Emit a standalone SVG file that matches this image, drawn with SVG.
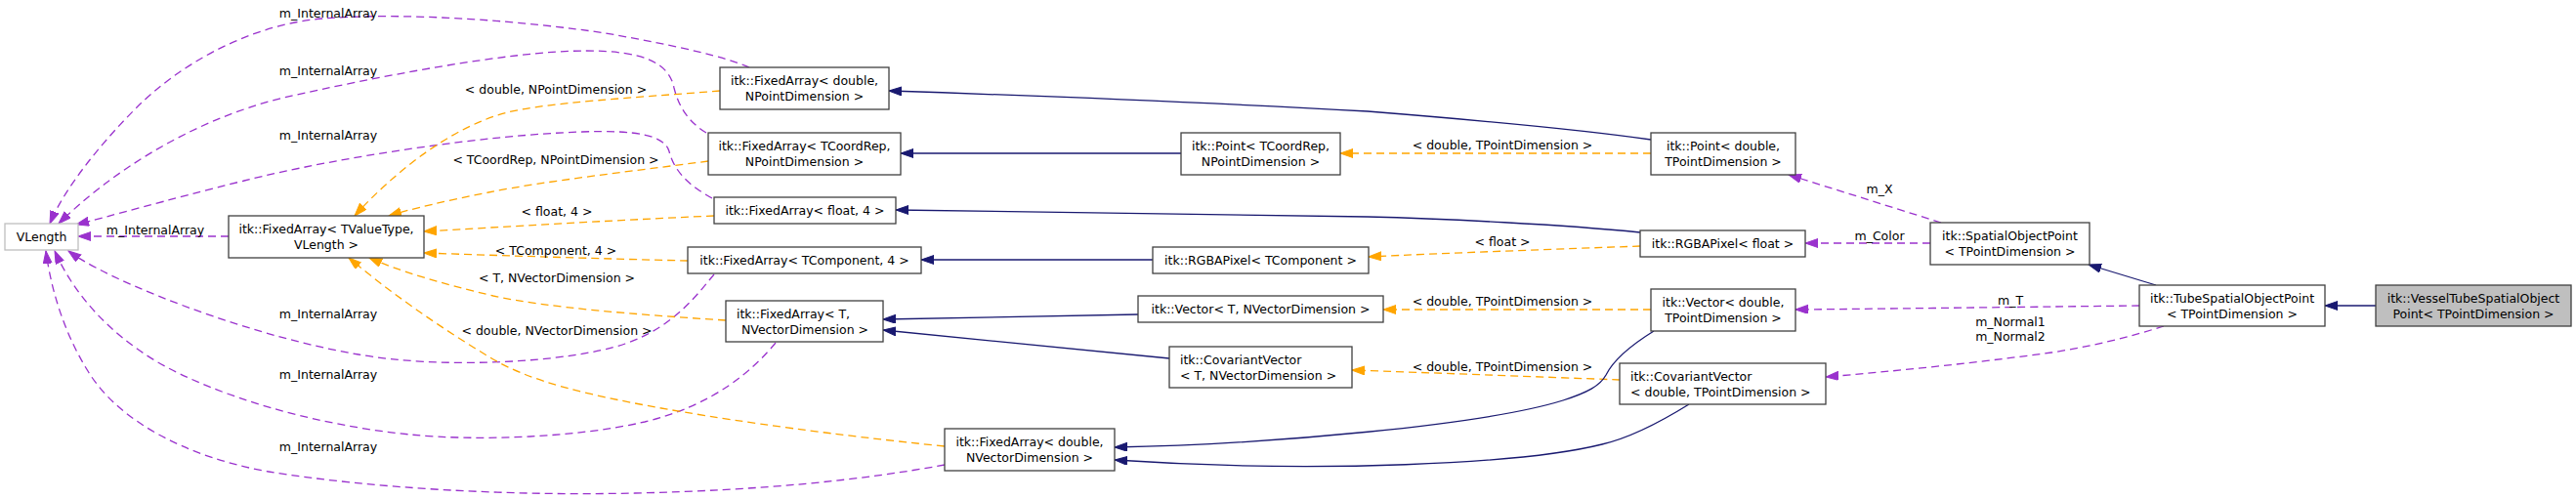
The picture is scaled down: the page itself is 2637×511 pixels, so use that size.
<svg xmlns="http://www.w3.org/2000/svg" width="2637" height="511" viewBox="0 0 2637 511">
<style>
  .bg{fill:#ffffff}
  .node rect{fill:#ffffff;stroke:#404040;stroke-width:1.3}
  .node.ext rect{stroke:#bfbfbf}
  .node.cur rect{fill:#bfbfbf}
  text{font-family:"DejaVu Sans","Liberation Sans",sans-serif;font-size:12.5px;fill:#000000}
  .c{text-anchor:middle}
  .l{text-anchor:start}
  .inh{fill:none;stroke:#191970;stroke-width:1.3;marker-end:url(#aNavy)}
  .use{fill:none;stroke:#9a32cd;stroke-width:1.3;stroke-dasharray:8,5;marker-end:url(#aPurple)}
  .tpl{fill:none;stroke:#ffa500;stroke-width:1.3;stroke-dasharray:8,5;marker-end:url(#aOrange)}
</style>
<defs>
  <marker id="aNavy" markerUnits="userSpaceOnUse" markerWidth="14" markerHeight="10" refX="13" refY="4.5" orient="auto">
    <path d="M0,0 L13,4.5 L0,9 z" fill="#191970" stroke="#191970" stroke-width="1"/>
  </marker>
  <marker id="aPurple" markerUnits="userSpaceOnUse" markerWidth="14" markerHeight="10" refX="13" refY="4.5" orient="auto">
    <path d="M0,0 L13,4.5 L0,9 z" fill="#9a32cd" stroke="#9a32cd" stroke-width="1"/>
  </marker>
  <marker id="aOrange" markerUnits="userSpaceOnUse" markerWidth="14" markerHeight="10" refX="13" refY="4.5" orient="auto">
    <path d="M0,0 L13,4.5 L0,9 z" fill="#ffa500" stroke="#ffa500" stroke-width="1"/>
  </marker>
</defs>
<rect class="bg" x="0" y="0" width="2637" height="511"/>

<g id="edges">
  <!-- usage edges to VLength -->
  <path class="use" d="M767,69 C740,58 700,48 620,34 C540,22 420,12 330,19 C250,26 180,70 140,110 C100,150 65,195 51,229"/>
  <path class="use" d="M723,136 C705,125 695,110 690,90 C685,65 660,52 600,52 C520,52 380,80 290,100 C190,125 110,180 60,229"/>
  <path class="use" d="M729,203 C705,190 690,175 685,155 C680,138 650,133 596,135 C500,138 350,160 250,185 C170,205 110,222 78,230"/>
  <path class="use" d="M234,242 L80,242"/>
  <path class="use" d="M731,281 C715,300 690,335 640,352 C580,372 450,378 367,363 C290,350 200,320 138,293 C110,281 85,268 70,257"/>
  <path class="use" d="M794,351 C770,380 730,415 660,432 C590,448 490,452 420,445 C320,435 220,405 160,370 C110,340 75,300 56,257"/>
  <path class="use" d="M967,476 C880,492 780,502 650,505 C520,508 380,500 275,483 C190,468 120,430 90,380 C65,340 52,295 47,257"/>
  <!-- template edges to FixedArray<TValueType,VLength> -->
  <path class="tpl" d="M737,93 C650,100 560,105 520,115 C460,130 400,180 363,221"/>
  <path class="tpl" d="M725,165 C650,175 560,185 500,197 C460,205 420,214 398,221"/>
  <path class="tpl" d="M731,221 C620,226 520,232 434,237"/>
  <path class="tpl" d="M704,267 C620,265 520,262 434,259"/>
  <path class="tpl" d="M743,328 C650,322 560,315 505,303 C450,290 410,278 378,264"/>
  <path class="tpl" d="M967,457 C850,445 760,432 700,422 C600,405 540,390 500,365 C450,335 400,300 357,264"/>
  <!-- right template edges -->
  <path class="tpl" d="M1690,157 L1372,157"/>
  <path class="tpl" d="M1679,252 C1600,255 1480,259 1401,263"/>
  <path class="tpl" d="M1690,317 L1416,317"/>
  <path class="tpl" d="M1658,389 C1580,386 1470,382 1384,379"/>
  <!-- inheritance -->
  <path class="inh" d="M1690,143 C1600,130 1450,118 1400,114 C1200,103 1000,96 910,93"/>
  <path class="inh" d="M1209,157 L922,157"/>
  <path class="inh" d="M1679,238 C1600,230 1480,224 1400,222 C1200,218 1000,215 917,215"/>
  <path class="inh" d="M1180,266 L943,266"/>
  <path class="inh" d="M1165,322 L904,327"/>
  <path class="inh" d="M1197,367 L904,338"/>
  <path class="inh" d="M1693,339 C1672,352 1652,368 1644,384 C1638,395 1625,402 1600,410 C1520,435 1300,455 1141,458"/>
  <path class="inh" d="M1729,414 C1700,432 1670,448 1640,455 C1560,475 1350,485 1141,471"/>
  <path class="inh" d="M2207,292 L2138,271"/>
  <path class="inh" d="M2432,313 L2380,313"/>
  <!-- right usage edges -->
  <path class="use" d="M1987,228 L1831,179"/>
  <path class="use" d="M1976,249 L1848,249"/>
  <path class="use" d="M2190,313 C2100,314 1950,316 1838,317"/>
  <path class="use" d="M2215,334 C2180,345 2140,355 2100,361 C2020,372 1940,380 1869,386"/>
  <!-- labels -->
  <text class="c" x="336" y="17.5">m_InternalArray</text>
  <text class="c" x="336" y="76.5">m_InternalArray</text>
  <text class="c" x="336" y="142.5">m_InternalArray</text>
  <text class="c" x="159" y="239.5">m_InternalArray</text>
  <text class="c" x="336" y="325.5">m_InternalArray</text>
  <text class="c" x="336" y="387.5">m_InternalArray</text>
  <text class="c" x="336" y="461.5">m_InternalArray</text>
  <text class="c" x="569" y="95.5">&lt; double, NPointDimension &gt;</text>
  <text class="c" x="569" y="167.5">&lt; TCoordRep, NPointDimension &gt;</text>
  <text class="c" x="570" y="220.5">&lt; float, 4 &gt;</text>
  <text class="c" x="569" y="260.5">&lt; TComponent, 4 &gt;</text>
  <text class="c" x="570" y="288.5">&lt; T, NVectorDimension &gt;</text>
  <text class="c" x="570" y="342.5">&lt; double, NVectorDimension &gt;</text>
  <text class="c" x="1538" y="152.5">&lt; double, TPointDimension &gt;</text>
  <text class="c" x="1538" y="251.5">&lt; float &gt;</text>
  <text class="c" x="1538" y="312.5">&lt; double, TPointDimension &gt;</text>
  <text class="c" x="1538" y="379.5">&lt; double, TPointDimension &gt;</text>
  <text class="c" x="1924" y="197.5">m_X</text>
  <text class="c" x="1924" y="245.5">m_Color</text>
  <text class="c" x="2058" y="311.5">m_T</text>
  <text class="c" x="2058" y="333.5">m_Normal1</text>
  <text class="c" x="2058" y="348.5">m_Normal2</text>
</g>

<g id="VLength" class="node ext"><rect x="5" y="229" width="75" height="27"/><text class="c" x="42.5" y="246.5">VLength</text></g>
<g id="FixedArray_TValueType_VLength" class="node"><rect x="234" y="221" width="200" height="43"/><text class="c" x="334" y="238.5">itk::FixedArray&lt; TValueType,</text><text class="c" x="334" y="254.5">VLength &gt;</text></g>
<g id="FixedArray_double_NPointDimension" class="node"><rect x="737" y="69" width="173" height="43"/><text class="c" x="823.5" y="86.5">itk::FixedArray&lt; double,</text><text class="c" x="823.5" y="102.5">NPointDimension &gt;</text></g>
<g id="FixedArray_TCoordRep_NPointDimension" class="node"><rect x="725" y="136" width="197" height="43"/><text class="c" x="823.5" y="153.5">itk::FixedArray&lt; TCoordRep,</text><text class="c" x="823.5" y="169.5">NPointDimension &gt;</text></g>
<g id="FixedArray_float_4" class="node"><rect x="731" y="202" width="186" height="27"/><text class="c" x="824" y="219.5">itk::FixedArray&lt; float, 4 &gt;</text></g>
<g id="FixedArray_TComponent_4" class="node"><rect x="704" y="253" width="239" height="27"/><text class="c" x="823.5" y="270.5">itk::FixedArray&lt; TComponent, 4 &gt;</text></g>
<g id="FixedArray_T_NVectorDimension" class="node"><rect x="743" y="308" width="161" height="42"/><text class="c" x="812" y="325.5">itk::FixedArray&lt; T,</text><text class="c" x="824" y="341.5">NVectorDimension &gt;</text></g>
<g id="FixedArray_double_NVectorDimension" class="node"><rect x="967" y="439" width="174" height="43"/><text class="c" x="1054" y="456.5">itk::FixedArray&lt; double,</text><text class="c" x="1054" y="472.5">NVectorDimension &gt;</text></g>
<g id="Point_TCoordRep_NPointDimension" class="node"><rect x="1209" y="136" width="163" height="43"/><text class="c" x="1290.5" y="153.5">itk::Point&lt; TCoordRep,</text><text class="c" x="1290.5" y="169.5">NPointDimension &gt;</text></g>
<g id="RGBAPixel_TComponent" class="node"><rect x="1180" y="253" width="221" height="27"/><text class="c" x="1290.5" y="270.5">itk::RGBAPixel&lt; TComponent &gt;</text></g>
<g id="Vector_T_NVectorDimension" class="node"><rect x="1165" y="303" width="251" height="27"/><text class="c" x="1290.5" y="320.5">itk::Vector&lt; T, NVectorDimension &gt;</text></g>
<g id="CovariantVector_T_NVectorDimension" class="node"><rect x="1197" y="355" width="187" height="42"/><text class="l" x="1208" y="372.5">itk::CovariantVector</text><text class="l" x="1208" y="388.5">&lt; T, NVectorDimension &gt;</text></g>
<g id="Point_double_TPointDimension" class="node"><rect x="1690" y="136" width="148" height="43"/><text class="c" x="1764" y="153.5">itk::Point&lt; double,</text><text class="c" x="1764" y="169.5">TPointDimension &gt;</text></g>
<g id="RGBAPixel_float" class="node"><rect x="1679" y="236" width="169" height="27"/><text class="c" x="1763.5" y="253.5">itk::RGBAPixel&lt; float &gt;</text></g>
<g id="Vector_double_TPointDimension" class="node"><rect x="1690" y="296" width="148" height="43"/><text class="c" x="1764" y="313.5">itk::Vector&lt; double,</text><text class="c" x="1764" y="329.5">TPointDimension &gt;</text></g>
<g id="CovariantVector_double_TPointDimension" class="node"><rect x="1658" y="372" width="211" height="42"/><text class="l" x="1669" y="389.5">itk::CovariantVector</text><text class="l" x="1669" y="405.5">&lt; double, TPointDimension &gt;</text></g>
<g id="SpatialObjectPoint" class="node"><rect x="1976" y="228" width="163" height="43"/><text class="c" x="2057.5" y="245.5">itk::SpatialObjectPoint</text><text class="c" x="2057.5" y="261.5">&lt; TPointDimension &gt;</text></g>
<g id="TubeSpatialObjectPoint" class="node"><rect x="2190" y="292" width="190" height="42"/><text class="c" x="2285" y="309.5">itk::TubeSpatialObjectPoint</text><text class="c" x="2285" y="325.5">&lt; TPointDimension &gt;</text></g>
<g id="VesselTubeSpatialObjectPoint" class="node cur"><rect x="2432" y="292" width="200" height="42"/><text class="c" x="2532" y="309.5">itk::VesselTubeSpatialObject</text><text class="c" x="2532" y="325.5">Point&lt; TPointDimension &gt;</text></g>
</svg>
